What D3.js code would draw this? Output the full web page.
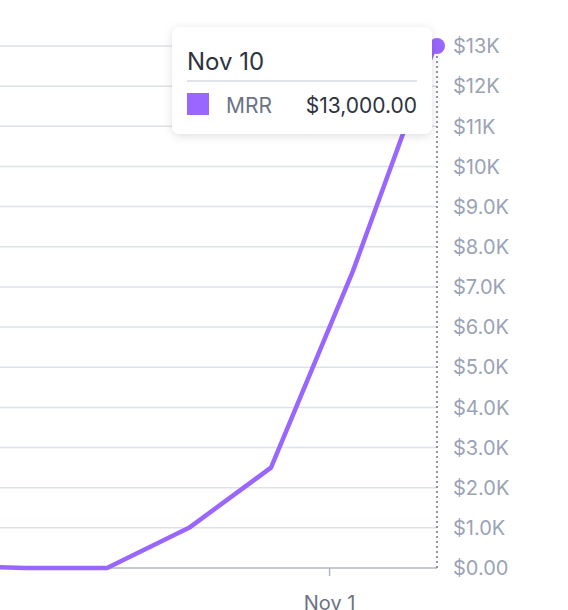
<!DOCTYPE html>
<html><head><meta charset="utf-8">
<script src="https://cdn.jsdelivr.net/npm/d3@7"></script>
<style>
body{margin:0;background:#fff;font-family:Inter,"Noto Sans",sans-serif}
svg{display:block}
</style></head>
<body>
<svg id="chart" width="568" height="610"></svg>
<script>
// weekly MRR points
var dates = ['2023-09-29','2023-10-06','2023-10-13','2023-10-20','2023-10-27','2023-11-03','2023-11-10']
var mrr = [60, 0, 0, 1000, 2500, 7400, 13000]
var yTicks = d3.range(0, 13001, 1000)
var xTicks = ['2023-11-01']

var parse = d3.utcParse('%Y-%m-%d')
var pts = dates.map((d,i)=>({date:parse(d), v:mrr[i]}))

var svg = d3.select('#chart')
var x = d3.scaleUtc().domain([parse('2023-10-06'), parse('2023-11-10')]).range([25, 435])
var y = d3.scaleLinear().domain([0, 13000]).range([568, 46])

var fmt = v => v==0 ? '$0.00' : '$' + (v>=10000 ? (v/1000)+'K' : (v/1000).toFixed(1)+'K')

// grid
svg.append('g').selectAll('line').data(yTicks.filter(v=>v>0)).join('line')
  .attr('x1', 0).attr('x2', 437)
  .attr('y1', d=>y(d)).attr('y2', d=>y(d))
  .attr('stroke', '#dde1e8').attr('stroke-width', 1.5)

// x axis
svg.append('line').attr('x1',0).attr('x2',437).attr('y1',568).attr('y2',568)
  .attr('stroke','#b0b6c3').attr('stroke-width',1.5)
svg.append('g').selectAll('g').data(xTicks.map(parse)).join(g=>{
  var t = g.append('g').attr('transform', d=>`translate(${x(d)},568)`)
  t.append('line').attr('y2',8).attr('stroke','#b0b6c3').attr('stroke-width',1.5)
  t.append('text').attr('y',42).attr('text-anchor','middle')
    .attr('fill','#6b7385').attr('font-size',20).text(d3.utcFormat('%b %-d'))
  return t
})

// y axis labels on right
svg.append('g').selectAll('text').data(yTicks).join('text')
  .attr('x', 453).attr('y', d=>y(d)).attr('dy','0.36em')
  .attr('fill','#9aa3b5').attr('font-size',20).text(fmt)

// hover line
svg.append('line').attr('x1',437).attr('x2',437).attr('y1',46).attr('y2',568)
  .attr('stroke','#6b7385').attr('stroke-width',1.5).attr('stroke-dasharray','2,3')

// line
svg.append('path').datum(pts)
  .attr('d', d3.line().x(d=>x(d.date)).y(d=>y(d.v)))
  .attr('fill','none').attr('stroke','#9966ff').attr('stroke-width',4.5)
  .attr('stroke-linejoin','round')

var last = pts[pts.length-1]
svg.append('circle').attr('cx', 437).attr('cy', y(last.v)).attr('r', 8).attr('fill','#9966ff')

// tooltip
var defs = svg.append('defs')
var f = defs.append('filter').attr('id','sh').attr('x','-20%').attr('y','-20%').attr('width','140%').attr('height','150%')
f.append('feDropShadow').attr('dx',0).attr('dy',2).attr('stdDeviation',5).attr('flood-color','#000').attr('flood-opacity',0.13)
var tip = svg.append('g').attr('transform','translate(172,27)')
tip.append('rect').attr('width',260).attr('height',107).attr('rx',8).attr('fill','#fff').attr('filter','url(#sh)')
tip.append('text').attr('x',15).attr('y',43).attr('fill','#2d3340').attr('font-size',24).text(d3.utcFormat('%b %-d')(last.date))
tip.append('line').attr('x1',15).attr('x2',245).attr('y1',54).attr('y2',54).attr('stroke','#d6dae1').attr('stroke-width',1.5)
tip.append('rect').attr('x',15).attr('y',66).attr('width',22).attr('height',22).attr('fill','#9966ff')
tip.append('text').attr('x',54).attr('y',86).attr('fill','#6b7385').attr('font-size',21).text('MRR')
tip.append('text').attr('x',245).attr('y',86).attr('text-anchor','end').attr('fill','#2d3340').attr('font-size',21)
  .text(d3.format('$,.2f')(last.v))
</script>
</body></html>
